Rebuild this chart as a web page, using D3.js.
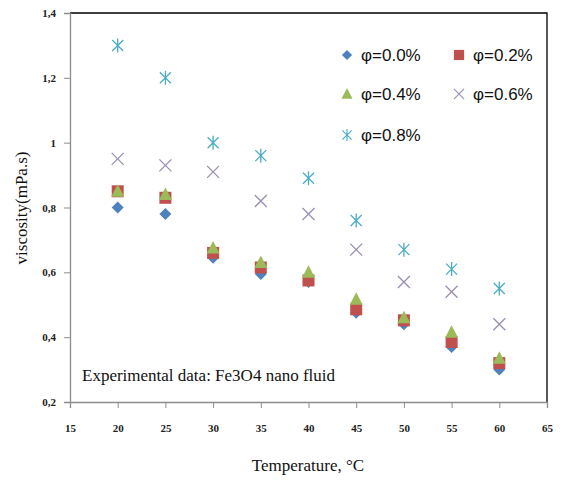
<!DOCTYPE html>
<html>
<head>
<meta charset="utf-8">
<script src="https://cdn.jsdelivr.net/npm/d3@7"></script>
<style>
  body { margin: 0; background: #fff; }
  svg { display: block; }
</style>
</head>
<body>
<svg id="chart"></svg>
<script>
// temperatures (°C)
const temps = [20, 25, 30, 35, 40, 45, 50, 55, 60];

// viscosity (mPa.s)
const phi00 = [0.80, 0.78, 0.645, 0.595, 0.57, 0.475, 0.44, 0.37, 0.30];
const phi02 = [0.85, 0.83, 0.66, 0.615, 0.575, 0.486, 0.452, 0.385, 0.32];
const phi04 = [0.85, 0.84, 0.675, 0.63, 0.60, 0.517, 0.46, 0.415, 0.335];
const phi06 = [0.95, 0.93, 0.91, 0.82, 0.78, 0.67, 0.57, 0.54, 0.44];
const phi08 = [1.30, 1.20, 1.00, 0.96, 0.89, 0.76, 0.67, 0.61, 0.55];

const seriesNames = ['φ=0.0%', 'φ=0.2%', 'φ=0.4%', 'φ=0.6%', 'φ=0.8%'];
const xTicks = [15, 20, 25, 30, 35, 40, 45, 50, 55, 60, 65];
const yTicks = [0.2, 0.4, 0.6, 0.8, 1.0, 1.2, 1.4];

const series = [
  { name: seriesNames[0], values: phi00, shape: 'diamond', color: '#4f81bd' },
  { name: seriesNames[1], values: phi02, shape: 'square', color: '#c0504d' },
  { name: seriesNames[2], values: phi04, shape: 'triangle', color: '#9bbb59' },
  { name: seriesNames[3], values: phi06, shape: 'cross', color: '#9a8fb3' },
  { name: seriesNames[4], values: phi08, shape: 'star', color: '#4bacc6' }
];

const W = 561, H = 485;
const margin = { top: 13, right: 14, bottom: 83, left: 70 };
const width = W - margin.left - margin.right;
const height = H - margin.top - margin.bottom;

const serif = '"Liberation Serif", "Times New Roman", serif';

const svg = d3.select('#chart')
  .attr('width', W)
  .attr('height', H);

const chart = svg.append('g')
  .attr('transform', `translate(${margin.left},${margin.top})`);

const x = d3.scaleLinear().domain([15, 65]).range([0, width]);
const y = d3.scaleLinear().domain([0.2, 1.4]).range([height, 0]);

const fmt = d => d === 1 ? '1' : d3.format('.1f')(d).replace('.', ',');

// frame: black top + right
chart.append('path')
  .attr('d', `M0,0H${width}V${height}`)
  .attr('fill', 'none')
  .attr('stroke', '#000')
  .attr('stroke-width', 1.3);

const xAxis = d3.axisBottom(x).tickValues(xTicks).tickSize(6).tickPadding(16).tickFormat(d => d);
const yAxis = d3.axisLeft(y).tickValues(yTicks).tickSize(6).tickPadding(8).tickFormat(fmt);

const xAxisG = chart.append('g')
  .attr('transform', `translate(0,${height})`)
  .call(xAxis);
const yAxisG = chart.append('g').call(yAxis);

[xAxisG, yAxisG].forEach(g => {
  g.select('.domain').attr('stroke', '#8c8c8c').attr('stroke-width', 1.3);
  g.selectAll('.tick line').attr('stroke', '#8c8c8c');
  g.selectAll('.tick text')
    .attr('fill', '#222')
    .style('font-family', serif)
    .style('font-size', '11px')
    .style('font-weight', 'bold');
});

// markers
function markerPath(shape) {
  switch (shape) {
    case 'diamond': return 'M0,-6L6,0L0,6L-6,0Z';
    case 'square': return 'M-6,-6H6V6H-6Z';
    case 'triangle': return 'M0,-7L6.5,5.5H-6.5Z';
    case 'cross': return 'M-6,-6L6,6M6,-6L-6,6';
    case 'star': return 'M0,-7V7M-5.5,-5.5L5.5,5.5M5.5,-5.5L-5.5,5.5';
  }
}
function isLine(shape) { return shape === 'cross' || shape === 'star'; }

series.forEach(s => {
  chart.append('g')
    .selectAll('path')
    .data(s.values.map((v, i) => ({ t: temps[i], v })))
    .join('path')
    .attr('transform', d => `translate(${x(d.t)},${y(d.v)})`)
    .attr('d', markerPath(s.shape))
    .attr('fill', isLine(s.shape) ? 'none' : s.color)
    .attr('stroke', isLine(s.shape) ? s.color : 'none')
    .attr('stroke-width', 1.3);
});

// legend
const legendPos = [[347, 55], [459, 55], [347, 94], [459, 94], [347, 135]];
const legend = svg.append('g');
series.forEach((s, i) => {
  const [lx, ly] = legendPos[i];
  const g = legend.append('g').attr('transform', `translate(${lx},${ly})`);
  g.append('path')
    .attr('d', markerPath(s.shape))
    .attr('transform', 'scale(0.85)')
    .attr('fill', isLine(s.shape) ? 'none' : s.color)
    .attr('stroke', isLine(s.shape) ? s.color : 'none')
    .attr('stroke-width', 1.3);
  g.append('text')
    .attr('x', 14)
    .attr('y', 6)
    .style('font-family', '"Liberation Sans", Arial, sans-serif')
    .style('font-size', '17px')
    .attr('fill', '#111')
    .text(s.name);
});

// annotation
svg.append('text')
  .attr('x', 82)
  .attr('y', 381)
  .style('font-family', serif)
  .style('font-size', '17px')
  .attr('fill', '#111')
  .text('Experimental data: Fe3O4 nano fluid');

// axis titles
svg.append('text')
  .attr('x', 308)
  .attr('y', 471)
  .attr('text-anchor', 'middle')
  .style('font-family', serif)
  .style('font-size', '17px')
  .attr('fill', '#111')
  .text('Temperature, °C');

svg.append('text')
  .attr('transform', 'translate(27,208) rotate(-90)')
  .attr('text-anchor', 'middle')
  .style('font-family', serif)
  .style('font-size', '17px')
  .attr('fill', '#111')
  .text('viscosity(mPa.s)');
</script>
</body>
</html>
